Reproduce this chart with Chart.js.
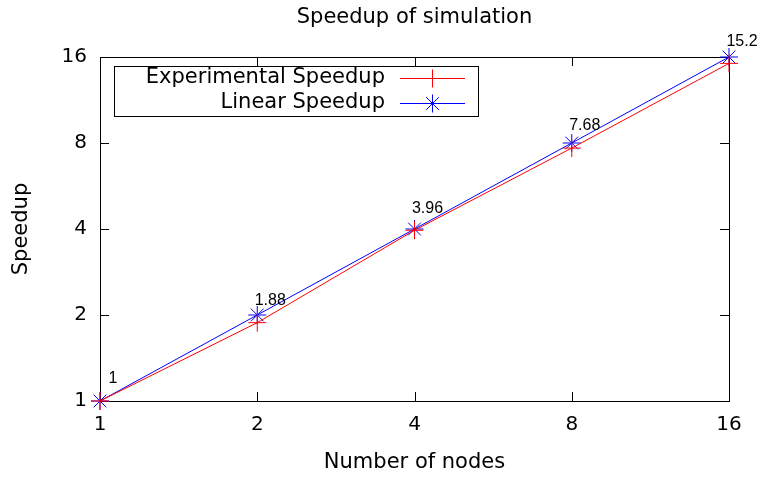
<!DOCTYPE html>
<html>
<head>
<meta charset="utf-8">
<script src="https://cdn.jsdelivr.net/npm/chart.js@4.4.0/dist/chart.umd.min.js"></script>
<style>
  html, body { margin: 0; padding: 0; background: #fff; }
  canvas { display: block; }
</style>
</head>
<body>
<canvas id="speedupChart" width="761" height="477"></canvas>
<script>
// data
const nodes = [1, 2, 4, 8, 16];
const experimentalSpeedup = [1, 1.88, 3.96, 7.68, 15.2];
const linearSpeedup = [1, 2, 4, 8, 16];
const tickValues = [1, 2, 4, 8, 16];
const chartTitle = 'Speedup of simulation';

const FONT = "'DejaVu Sans', sans-serif";

// ────────────────────────────────────────────────
// gnuplot-like frame, mirrored ticks, title, point labels and key box
// ────────────────────────────────────────────────
const gnuplotFrame = {
  id: 'gnuplotFrame',
  beforeDatasetsDraw(chart) {
    const { ctx, chartArea: a, scales: { x, y } } = chart;
    const tl = 9;
    ctx.save();
    ctx.strokeStyle = '#000';
    ctx.lineWidth = 1;
    ctx.beginPath();
    tickValues.forEach(v => {
      const px = Math.round(x.getPixelForValue(v)) + 0.5;
      ctx.moveTo(px, a.bottom); ctx.lineTo(px, a.bottom - tl);
      ctx.moveTo(px, a.top); ctx.lineTo(px, a.top + tl);
      const py = Math.round(y.getPixelForValue(v)) + 0.5;
      ctx.moveTo(a.left, py); ctx.lineTo(a.left + tl, py);
      ctx.moveTo(a.right, py); ctx.lineTo(a.right - tl, py);
    });
    ctx.stroke();
    ctx.strokeRect(Math.round(a.left) + 0.5, Math.round(a.top) + 0.5,
      Math.round(a.right - a.left), Math.round(a.bottom - a.top));

    // title, centred over the plot area like gnuplot
    ctx.fillStyle = '#000';
    ctx.font = '21px ' + FONT;
    ctx.textAlign = 'center';
    ctx.textBaseline = 'middle';
    ctx.fillText(chartTitle, (a.left + a.right) / 2, 18);
    ctx.restore();
  },
  afterDatasetsDraw(chart) {
    const { ctx } = chart;
    ctx.save();

    // value labels above the experimental points
    const meta = chart.getDatasetMeta(0);
    ctx.fillStyle = '#000';
    ctx.font = "16px 'Liberation Sans', Arial, sans-serif";
    ctx.textAlign = 'center';
    ctx.textBaseline = 'middle';
    meta.data.forEach((pt, i) => {
      ctx.fillText(String(experimentalSpeedup[i]), pt.x + 13, pt.y - 22);
    });

    // key box
    ctx.fillStyle = '#fff';
    ctx.fillRect(114, 66, 364, 50);
    ctx.strokeStyle = '#000';
    ctx.lineWidth = 1;
    ctx.strokeRect(114.5, 66.5, 364, 50);
    ctx.font = '21px ' + FONT;
    ctx.textAlign = 'right';
    const rows = [78, 103];
    chart.data.datasets.forEach((ds, i) => {
      const ry = rows[i];
      ctx.fillStyle = '#000';
      ctx.fillText(ds.label, 385, ry);
      ctx.strokeStyle = ds.borderColor;
      ctx.beginPath();
      ctx.moveTo(400, ry + 0.5);
      ctx.lineTo(465, ry + 0.5);
      ctx.stroke();
      Chart.helpers.drawPoint(ctx, {
        pointStyle: ds.pointStyle,
        radius: ds.pointRadius,
        borderWidth: 1
      }, 432.5, ry + 0.5);
    });
    ctx.restore();
  }
};

function toPoints(ys) {
  return nodes.map((n, i) => ({ x: n, y: ys[i] }));
}

function logAxis(title, titlePadding, tickPadding) {
  return {
    type: 'logarithmic',
    min: 1,
    max: 16,
    afterBuildTicks: scale => { scale.ticks = tickValues.map(v => ({ value: v })); },
    grid: { display: false, drawTicks: false },
    border: { display: false },
    ticks: {
      color: '#000',
      font: { family: FONT, size: 20 },
      padding: tickPadding,
      autoSkip: false,
      maxRotation: 0,
      callback: v => String(v)
    },
    title: {
      display: true,
      text: title,
      color: '#000',
      font: { family: FONT, size: 21 },
      padding: titlePadding
    }
  };
}

const xAxis = logAxis('Number of nodes', { top: 0, bottom: 1.5 }, 12);
xAxis.afterFit = s => { s.height = 76; };
const yAxis = logAxis('Speedup', { top: 9.4, bottom: 0 }, 13);
yAxis.afterFit = s => { s.width = 100; };

const ctx = document.getElementById('speedupChart').getContext('2d');
new Chart(ctx, {
  type: 'line',
  data: {
    datasets: [
      {
        label: 'Experimental Speedup',
        data: toPoints(experimentalSpeedup),
        borderColor: '#ff0000',
        backgroundColor: '#ff0000',
        borderWidth: 1,
        pointStyle: 'cross',
        pointRadius: 9,
        pointBorderWidth: 1,
        pointBorderColor: '#ff0000',
        tension: 0
      },
      {
        label: 'Linear Speedup',
        data: toPoints(linearSpeedup),
        borderColor: '#0000ff',
        backgroundColor: '#0000ff',
        borderWidth: 1,
        pointStyle: 'star',
        pointRadius: 9,
        pointBorderWidth: 1,
        pointBorderColor: '#0000ff',
        tension: 0
      }
    ]
  },
  options: {
    responsive: false,
    animation: false,
    clip: false,
    layout: { padding: { left: 0, right: 32, top: 57, bottom: 0 } },
    plugins: {
      legend: { display: false },
      tooltip: { enabled: false },
      title: { display: false }
    },
    scales: { x: xAxis, y: yAxis }
  },
  plugins: [gnuplotFrame]
});
</script>
</body>
</html>
